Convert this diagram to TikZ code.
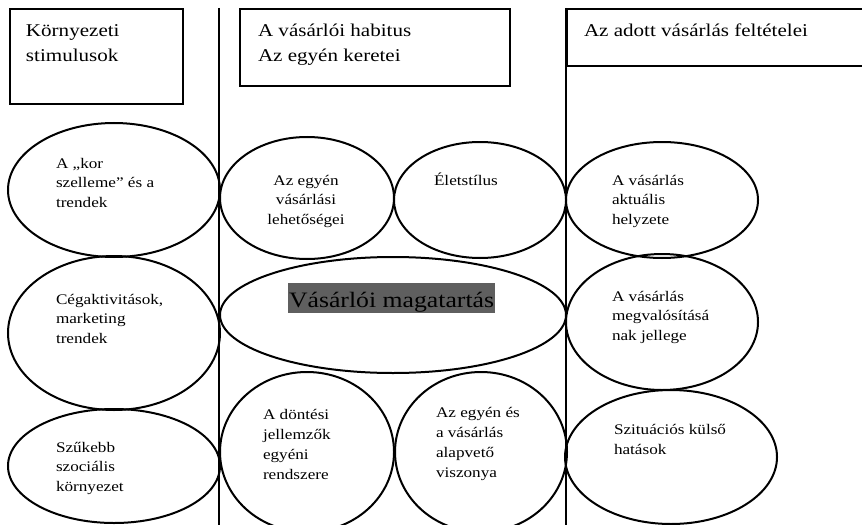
\documentclass[tikz,border=0pt]{standalone}
\usepackage{fontspec}
\setmainfont{Liberation Serif}[FakeStretch=1.17]
\usepackage{tikz}
\usetikzlibrary{shapes.geometric}
\definecolor{labelgray}{RGB}{95,95,95}

\begin{document}
\begin{tikzpicture}[x=0.75pt,y=-0.75pt,line width=1.5pt,
every node/.style={inner sep=0pt},
headbox/.style={draw,rectangle,anchor=north west},
headtext/.style={font=\fontsize{13.5}{18.75}\selectfont,align=left,anchor=base west},
bubble/.style={draw,ellipse},
bubbletext/.style={font=\fontsize{11}{14.8}\selectfont,align=left,anchor=base west}]
\useasboundingbox (0,0) rectangle (862,524);
% The three column heads (texts sit on the baseline of their last line):
\node [headbox,minimum width=129.75pt,minimum height=71.25pt] (head stimuli) at (9,8) {};
\node [headbox,minimum width=202.5pt,minimum height=57.75pt] (head habitus) at (239,8) {};
\node [headbox,minimum width=228pt,minimum height=42.75pt] (head conditions) at (566,8) {};
\node [headtext] (stimuli text) at (25,62) {Környezeti\\stimulusok};
\node [headtext] (habitus text) at (257,62) {A vásárlói habitus\\Az egyén keretei};
\node [headtext] (conditions text) at (583,37) {Az adott vásárlás feltételei};

% column dividers
\coordinate (divider 1 top) at (219,8);
\coordinate (divider 1 bottom) at (219,530);
\coordinate (divider 2 top) at (566,8);
\coordinate (divider 2 bottom) at (566,530);
\draw (divider 1 top) -- (divider 1 bottom);
\draw (divider 2 top) -- (divider 2 bottom);

% the ovals
\foreach \name/\x/\y/\rx/\ry in {spirit/114/190/106/67, company/114/333/106/77,
  social/114/466/106/57, means/307/198/87/61, lifestyle/480/200/86/58,
  behaviour/393/315/173/58, decision/307/452/87/80, relation/481/452/86/80,
  situation/662/200/96/58, execution/662/322/96/68, external/671/457/106/67}
{
\node [bubble,minimum width=1.5pt*\rx,minimum height=1.5pt*\ry] (\name) at (\x,\y) {};
}

\node [bubbletext] (spirit text) at (55,207.5) {A „kor\\szelleme” és a\\trendek};
\node [bubbletext] (company text) at (55,343.5) {Cégaktivitások,\\marketing\\trendek};
\node [bubbletext] (social text) at (55,491.5) {Szűkebb\\szociális\\környezet};
\node [bubbletext,align=center,anchor=base] (means text) at (306,224.5) {Az egyén\\vásárlási\\lehetőségei};
\node [bubbletext] (lifestyle text) at (433,185) {Életstílus};
\node [bubbletext] (decision text) at (262,479) {A döntési\\jellemzők\\egyéni\\rendszere};
\node [bubbletext] (relation text) at (435,477) {Az egyén és\\a vásárlás\\alapvető\\viszonya};
\node [bubbletext] (situation text) at (611,224.5) {A vásárlás\\aktuális\\helyzete};
\node [bubbletext] (execution text) at (611,340.5) {A vásárlás\\megvalósításá\\nak jellege};
\node [bubbletext] (external text) at (613,454.7) {Szituációs külső\\hatások};
\node [fill=labelgray,text height=18pt,text depth=4.5pt,inner xsep=0.75pt,
  font=\fontsize{16.5}{20}\selectfont,anchor=base west] (behaviour text) at (287,307) {Vásárlói magatartás};
\end{tikzpicture}
\end{document}
